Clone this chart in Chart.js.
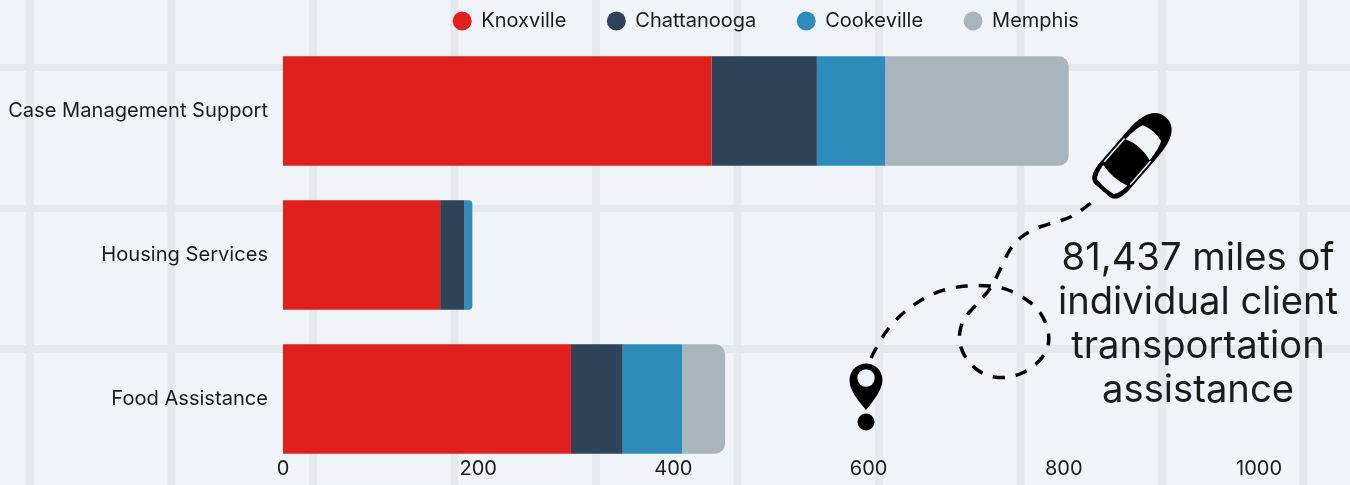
<!DOCTYPE html>
<html>
<head>
<meta charset="utf-8">
<script src="https://cdn.jsdelivr.net/npm/chart.js@4"></script>
<style>
html, body { margin: 0; padding: 0; }
body {
    width: 1350px;
    height: 485px;
    overflow: hidden;
    background-color: #f0f3f8;
    /* the pale street grid behind the chart */
    background-image:
        linear-gradient(to right, #e5e8ed 8px, transparent 8px),
        linear-gradient(to bottom, #e5e8ed 8px, transparent 8px);
    background-size: 141.5px 141px;
    background-position: 26px 63px;
}
canvas { display: block; }
</style>
</head>
<body>
<canvas id="chart" width="1350" height="485"></canvas>
<script>
const categories = ['Case Management Support', 'Housing Services', 'Food Assistance'];
const knoxville = [439, 161, 295];
const chattanooga = [108, 25, 53];
const cookeville = [70, 8, 61];
const memphis = [188, 0, 44];
const xTicks = [0, 200, 400, 600, 800, 1000];
const calloutLines = ['81,437 miles of', 'individual client', 'transportation', 'assistance'];

const FONT = 'Inter';
const INK = '#1b1b1b';

// route between the pin and the car, drawn as a dashed curve
const route = [
    [871, 358], [881, 338], [896, 319], [913, 305], [933, 293], [955, 287], [978, 285],
    [1002, 287], [1022, 296], [1040, 310], [1050, 333], [1047, 353], [1030, 370], [1010, 378],
    [987, 377], [968, 363], [958, 342], [962, 320], [978, 303], [992, 287], [1002, 265],
    [1012, 245], [1030, 230], [1052, 223], [1073, 217], [1097, 198]
];

function drawRoute(c) {
    c.save();
    c.strokeStyle = '#000';
    c.lineWidth = 3.5;
    c.setLineDash([12, 11]);
    c.beginPath();
    c.moveTo(route[0][0], route[0][1]);
    for (let i = 1; i < route.length - 1; i++) {
        let mx = (route[i][0] + route[i + 1][0]) / 2;
        let my = (route[i][1] + route[i + 1][1]) / 2;
        c.quadraticCurveTo(route[i][0], route[i][1], mx, my);
    }
    c.lineTo(route[route.length - 1][0], route[route.length - 1][1]);
    c.stroke();
    c.restore();
}

function drawPin(c) {
    c.save();
    c.fillStyle = '#000';
    c.beginPath();
    c.arc(866, 380, 16.5, Math.PI * 0.93, Math.PI * 0.07);
    c.quadraticCurveTo(880, 394, 866, 410);
    c.quadraticCurveTo(852, 394, 850, 385);
    c.fill();
    c.beginPath();
    c.arc(866, 422, 8.5, 0, Math.PI * 2);
    c.fill();
    c.fillStyle = '#f0f3f8';
    c.beginPath();
    c.arc(866, 378, 8.7, 0, Math.PI * 2);
    c.fill();
    c.restore();
}

function drawCar(c) {
    c.save();
    c.translate(1133, 155);
    c.rotate(-49 * Math.PI / 180);
    c.fillStyle = '#000';
    c.beginPath();
    c.moveTo(-47, -10);
    c.quadraticCurveTo(-46, -19, -30, -20);
    c.lineTo(15, -20);
    c.bezierCurveTo(40, -20, 50, -12, 50, 0);
    c.bezierCurveTo(50, 12, 40, 20, 15, 20);
    c.lineTo(-30, 20);
    c.quadraticCurveTo(-46, 19, -47, 10);
    c.closePath();
    c.fill();
    c.fillStyle = '#f0f3f8';
    // windscreen
    c.beginPath();
    c.moveTo(7, -16);
    c.quadraticCurveTo(24, -15, 29, -12);
    c.quadraticCurveTo(33, 0, 29, 12);
    c.quadraticCurveTo(24, 15, 7, 16);
    c.quadraticCurveTo(13, 0, 7, -16);
    c.fill();
    // rear window
    c.beginPath();
    c.moveTo(-27, -16);
    c.quadraticCurveTo(-38, -15, -42, -11);
    c.quadraticCurveTo(-44, 0, -42, 11);
    c.quadraticCurveTo(-38, 15, -27, 16);
    c.quadraticCurveTo(-31, 0, -27, -16);
    c.fill();
    // side glass
    c.fillRect(-24, -18, 31, 1.5);
    c.fillRect(-24, 16.5, 31, 1.5);
    c.restore();
}

const decorations = {
    id: 'decorations',
    // the legend spacing comes from labels.padding, which also makes the box tall,
    // so the box height is forced back to what the plot needs
    beforeInit(chart) {
        const originalFit = chart.legend.fit;
        chart.legend.fit = function () {
            originalFit.call(this);
            this.height = 39;
        };
    },
    afterLayout(chart) {
        const legend = chart.legend;
        legend.top = -30;
        legend.left -= 5;
        legend.right -= 5;
    },
    afterDraw(chart) {
        const c = chart.ctx;
        drawRoute(c);
        drawPin(c);
        drawCar(c);
        c.save();
        c.fillStyle = INK;
        c.font = '38.2px ' + FONT;
        c.textAlign = 'center';
        c.textBaseline = 'middle';
        calloutLines.forEach((line, i) => c.fillText(line, 1198, 258.5 + i * 44));
        c.restore();
    }
};

const seriesList = [knoxville, chattanooga, cookeville, memphis];

// only the last non-empty segment of a stack gets the rounded end
function endRadius(context) {
    let i = context.dataIndex;
    let last = 0;
    seriesList.forEach((s, n) => { if (s[i] > 0) last = n; });
    return context.datasetIndex === last ? { topRight: 10, bottomRight: 10 } : 0;
}

function makeDataset(label, data, color) {
    return {
        label: label,
        data: data,
        backgroundColor: color,
        borderWidth: 0,
        inflateAmount: 0,
        borderRadius: endRadius,
        barPercentage: 0.76,
        categoryPercentage: 1
    };
}

new Chart(document.getElementById('chart'), {
    type: 'bar',
    data: {
        labels: categories,
        datasets: [
            makeDataset('Knoxville', knoxville, '#e11f1d'),
            makeDataset('Chattanooga', chattanooga, '#2f4359'),
            makeDataset('Cookeville', cookeville, '#2e8cbc'),
            makeDataset('Memphis', memphis, '#aab4bc')
        ]
    },
    options: {
        indexAxis: 'y',
        responsive: false,
        animation: false,
        devicePixelRatio: 1,
        layout: { padding: { right: 91 } },
        plugins: {
            legend: {
                position: 'top',
                fullSize: false,
                labels: {
                    usePointStyle: true,
                    pointStyle: 'circle',
                    boxWidth: 18,
                    boxHeight: 13.4,
                    padding: 41,
                    color: INK,
                    font: { family: FONT, size: 20 }
                }
            },
            tooltip: { enabled: false }
        },
        scales: {
            x: {
                stacked: true,
                min: 0,
                max: 1000,
                afterBuildTicks: axis => { axis.ticks = xTicks.map(v => ({ value: v })); },
                afterFit: axis => { axis.height = 14; },
                grid: { display: false },
                border: { display: false },
                ticks: {
                    // mirror only to stop the labels being clipped to the short axis box
                    mirror: true,
                    padding: -10,
                    color: INK,
                    callback: v => String(v),
                    font: { family: FONT, size: 20 }
                }
            },
            y: {
                stacked: true,
                afterFit: axis => {
                    axis.width = 283;
                    axis.paddingTop = 0;
                    axis.paddingBottom = 0;
                },
                grid: { display: false },
                border: { display: false },
                ticks: {
                    padding: 7,
                    color: INK,
                    font: { family: FONT, size: 20.1 }
                }
            }
        }
    },
    plugins: [decorations]
});
</script>
</body>
</html>
